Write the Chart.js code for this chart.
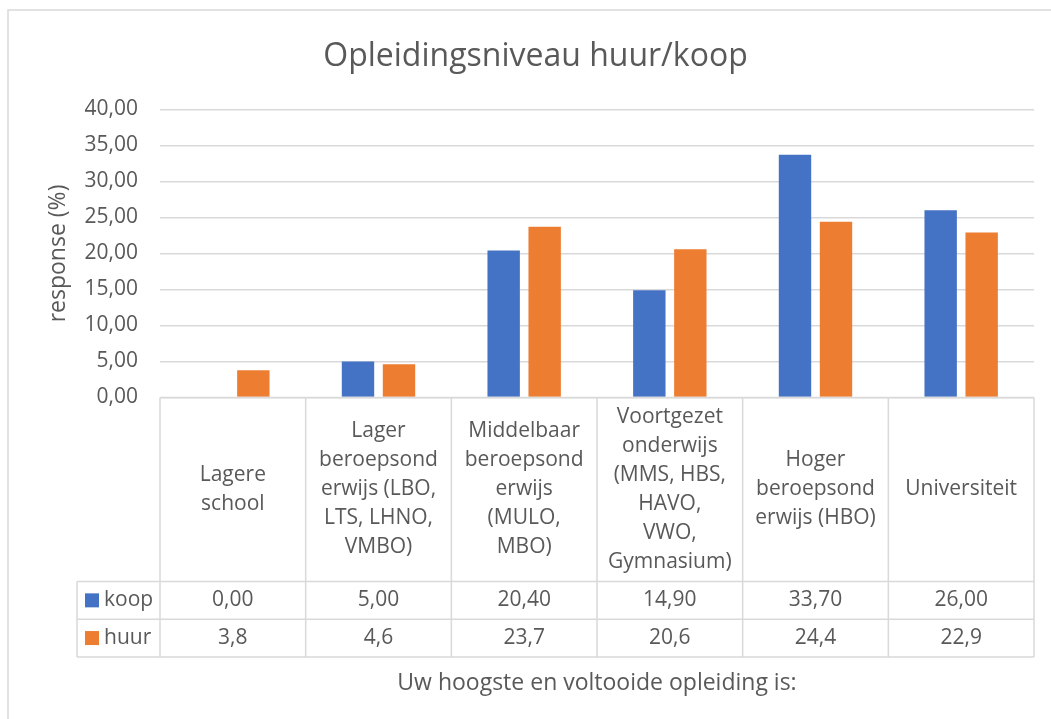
<!DOCTYPE html>
<html>
<head>
<meta charset="utf-8">
<script src="https://cdn.jsdelivr.net/npm/chart.js@4/dist/chart.umd.min.js"></script>
<style>
  body { margin: 0; background: #fff; }
  canvas { display: block; }
</style>
</head>
<body>
<canvas id="chart" width="1051" height="719"></canvas>
<script>
const categories = [
    ["Lagere", "school"],
    ["Lager", "beroepsond", "erwijs (LBO,", "LTS, LHNO,", "VMBO)"],
    ["Middelbaar", "beroepsond", "erwijs", "(MULO,", "MBO)"],
    ["Voortgezet", "onderwijs", "(MMS, HBS,", "HAVO,", "VWO,", "Gymnasium)"],
    ["Hoger", "beroepsond", "erwijs (HBO)"],
    ["Universiteit"]
];
const koop = [0.00, 5.00, 20.40, 14.90, 33.70, 26.00];
const huur = [3.8, 4.6, 23.7, 20.6, 24.4, 22.9];
const yTicks = [0, 5, 10, 15, 20, 25, 30, 35, 40];

const textColor = '#595959';
const lineColor = '#d9d9d9';
const fontFamily = '"Open Sans", sans-serif';

const fmt = (v, d) => v.toFixed(d).replace('.', ',');

// Excel-style data table below the plot area
const dataTable = {
    id: 'dataTable',
    beforeDraw(chart) {
        const ctx = chart.ctx;
        ctx.save();
        ctx.fillStyle = '#fff';
        ctx.fillRect(0, 0, chart.width, chart.height);
        ctx.strokeStyle = lineColor;
        ctx.lineWidth = 1.5;
        ctx.beginPath();
        ctx.moveTo(8, chart.height);
        ctx.lineTo(8, 10);
        ctx.lineTo(chart.width, 10);
        ctx.stroke();
        ctx.restore();
    },
    afterDraw(chart) {
        const { ctx, chartArea: area, scales: { x } } = chart;
        const step = x.getPixelForValue(1) - x.getPixelForValue(0);
        const top = area.bottom;
        const headBottom = top + 184;
        const rowH = 37.7;
        const tableBottom = headBottom + rowH * 2;
        const legendLeft = 77;

        ctx.save();
        ctx.strokeStyle = lineColor;
        ctx.lineWidth = 1.5;
        ctx.beginPath();
        // horizontal lines
        ctx.moveTo(area.left, top); ctx.lineTo(area.right, top);
        for (let r = 0; r <= 2; r++) {
            const yy = headBottom + rowH * r;
            ctx.moveTo(legendLeft, yy); ctx.lineTo(area.right, yy);
        }
        // vertical lines
        ctx.moveTo(legendLeft, headBottom); ctx.lineTo(legendLeft, tableBottom);
        for (let i = 0; i <= categories.length; i++) {
            const xx = x.getPixelForValue(0) - step / 2 + step * i;
            ctx.moveTo(xx, top); ctx.lineTo(xx, tableBottom);
        }
        ctx.stroke();

        ctx.fillStyle = textColor;
        ctx.font = '21px ' + fontFamily;
        ctx.textAlign = 'center';
        ctx.textBaseline = 'middle';
        const lh = 29;
        const headMid = (top + headBottom) / 2;
        categories.forEach((lines, i) => {
            const cx = x.getPixelForValue(i);
            const y0 = headMid - (lines.length - 1) * lh / 2;
            lines.forEach((t, j) => ctx.fillText(t, cx, y0 + j * lh));
        });

        chart.data.datasets.forEach((ds, r) => {
            const cy = headBottom + rowH * r + rowH / 2;
            ctx.fillStyle = ds.backgroundColor;
            ctx.fillRect(85, cy - 7, 14, 14);
            ctx.fillStyle = textColor;
            ctx.textAlign = 'left';
            ctx.fillText(ds.label, 104, cy);
            ctx.textAlign = 'center';
            ds.data.forEach((v, i) => {
                ctx.fillText(fmt(v, ds.decimals), x.getPixelForValue(i), cy);
            });
        });
        ctx.restore();
    }
};

new Chart(document.getElementById('chart'), {
    type: 'bar',
    data: {
        labels: categories,
        datasets: [
            { label: 'koop', data: koop, backgroundColor: '#4472C4', decimals: 2 },
            { label: 'huur', data: huur, backgroundColor: '#ED7D31', decimals: 1 }
        ]
    },
    options: {
        responsive: false,
        animation: false,
        layout: { padding: { left: 37, right: 17, top: 0, bottom: 0 } },
        datasets: {
            bar: { categoryPercentage: 0.563, barPercentage: 0.79 }
        },
        plugins: {
            legend: { display: false },
            tooltip: { enabled: false },
            title: {
                display: true,
                text: 'Opleidingsniveau huur/koop',
                color: textColor,
                font: { family: fontFamily, size: 32, weight: 'normal', lineHeight: 1.2 },
                padding: { top: 38, bottom: 33 }
            }
        },
        scales: {
            x: {
                afterFit: (scale) => { scale.height = 321.5; },
                ticks: { display: false },
                grid: { display: false },
                border: { display: false },
                title: {
                    display: true,
                    text: 'Uw hoogste en voltooide opleiding is:',
                    color: textColor,
                    font: { family: fontFamily, size: 23 },
                    padding: { top: 0, bottom: 22 }
                }
            },
            y: {
                min: 0,
                max: 40,
                afterFit: (scale) => { scale.width = 123; },
                afterBuildTicks: (scale) => { scale.ticks = yTicks.map(v => ({ value: v })); },
                ticks: {
                    color: textColor,
                    font: { family: fontFamily, size: 21 },
                    padding: 22,
                    callback: (v) => fmt(v, 2)
                },
                grid: { color: lineColor, lineWidth: 1.5, drawTicks: false },
                border: { display: false },
                title: {
                    display: true,
                    text: 'response (%)',
                    color: textColor,
                    font: { family: fontFamily, size: 23 },
                    padding: { top: 8, bottom: 0 }
                }
            }
        }
    },
    plugins: [dataTable]
});
</script>
</body>
</html>
